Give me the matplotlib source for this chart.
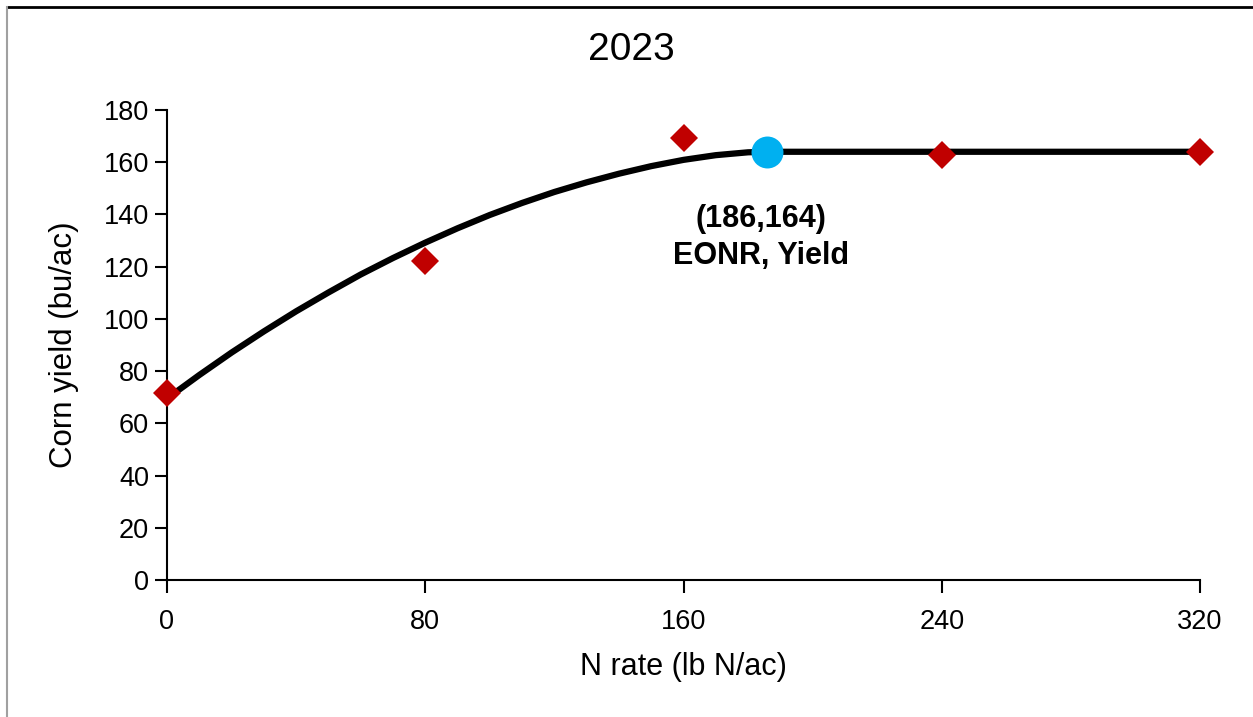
import matplotlib.pyplot as plt
from matplotlib.lines import Line2D

plt.rcParams['font.family'] = ['Liberation Sans', 'DejaVu Sans']

# observed yields at each N rate
n_rate = [0, 80, 160, 240, 320]
yield_obs = [71.5, 122.3, 169.4, 162.8, 163.9]

# quadratic-plateau fitted curve
curve_x = [0, 10, 20, 30, 40, 50, 60, 70, 80, 90, 100, 110, 120, 130, 140,
           150, 160, 170, 180, 186, 320]
curve_y = [69.5, 78.5, 87.1, 95.2, 102.9, 110.1, 117.0, 123.3, 129.2, 134.7, 139.8,
           144.4, 148.6, 152.3, 155.6, 158.5, 160.9, 162.7, 163.8, 164, 164]

# economic optimum N rate and yield
eonr_x = 186
eonr_y = 164

x_ticks = [0, 80, 160, 240, 320]
y_ticks = [0, 20, 40, 60, 80, 100, 120, 140, 160, 180]

fig = plt.figure(figsize=(12.53, 7.17), dpi=100)
ax = fig.add_axes([167 / 1253, 1 - 580 / 717, (1200 - 167) / 1253, (580 - 110) / 717])

ax.plot(curve_x, curve_y, color='black', lw=4.5, solid_capstyle='butt',
        solid_joinstyle='round', zorder=2)
ax.plot(n_rate, yield_obs, 'D', color='#C00000', ms=14, mew=0, zorder=3, clip_on=False)
ax.plot(eonr_x, eonr_y, 'o', color='#00B0F0', ms=23, mew=0, zorder=4)

ax.text(eonr_x - 2, 144, f'({eonr_x},{eonr_y})\nEONR, Yield', ha='center', va='top',
        fontsize=22, fontweight='bold', linespacing=1.3)

ax.set_xlim(0, 320)
ax.set_ylim(0, 180)
ax.set_xticks(x_ticks)
ax.set_yticks(y_ticks)
ax.spines['top'].set_visible(False)
ax.spines['right'].set_visible(False)
for s in ['left', 'bottom']:
    ax.spines[s].set_linewidth(1.5)
ax.tick_params(direction='out', length=9, width=1.5, labelsize=19.5, pad=4)
ax.tick_params(axis='x', pad=12)

ax.set_xlabel('N rate (lb N/ac)', fontsize=22, labelpad=12)
ax.set_ylabel('Corn yield (bu/ac)', fontsize=22.5, labelpad=18)
fig.text(631 / 1253, 1 - 50 / 717, '2023', fontsize=28, ha='center', va='center')

# frame lines of the chart area
fig.add_artist(Line2D([7 / 1253, 1], [1 - 7 / 717, 1 - 7 / 717], color='black', lw=2))
fig.add_artist(Line2D([7 / 1253, 7 / 1253], [0, 1 - 7 / 717], color='#A0A0A0', lw=1.5))

fig.savefig('out.png', dpi=100)
